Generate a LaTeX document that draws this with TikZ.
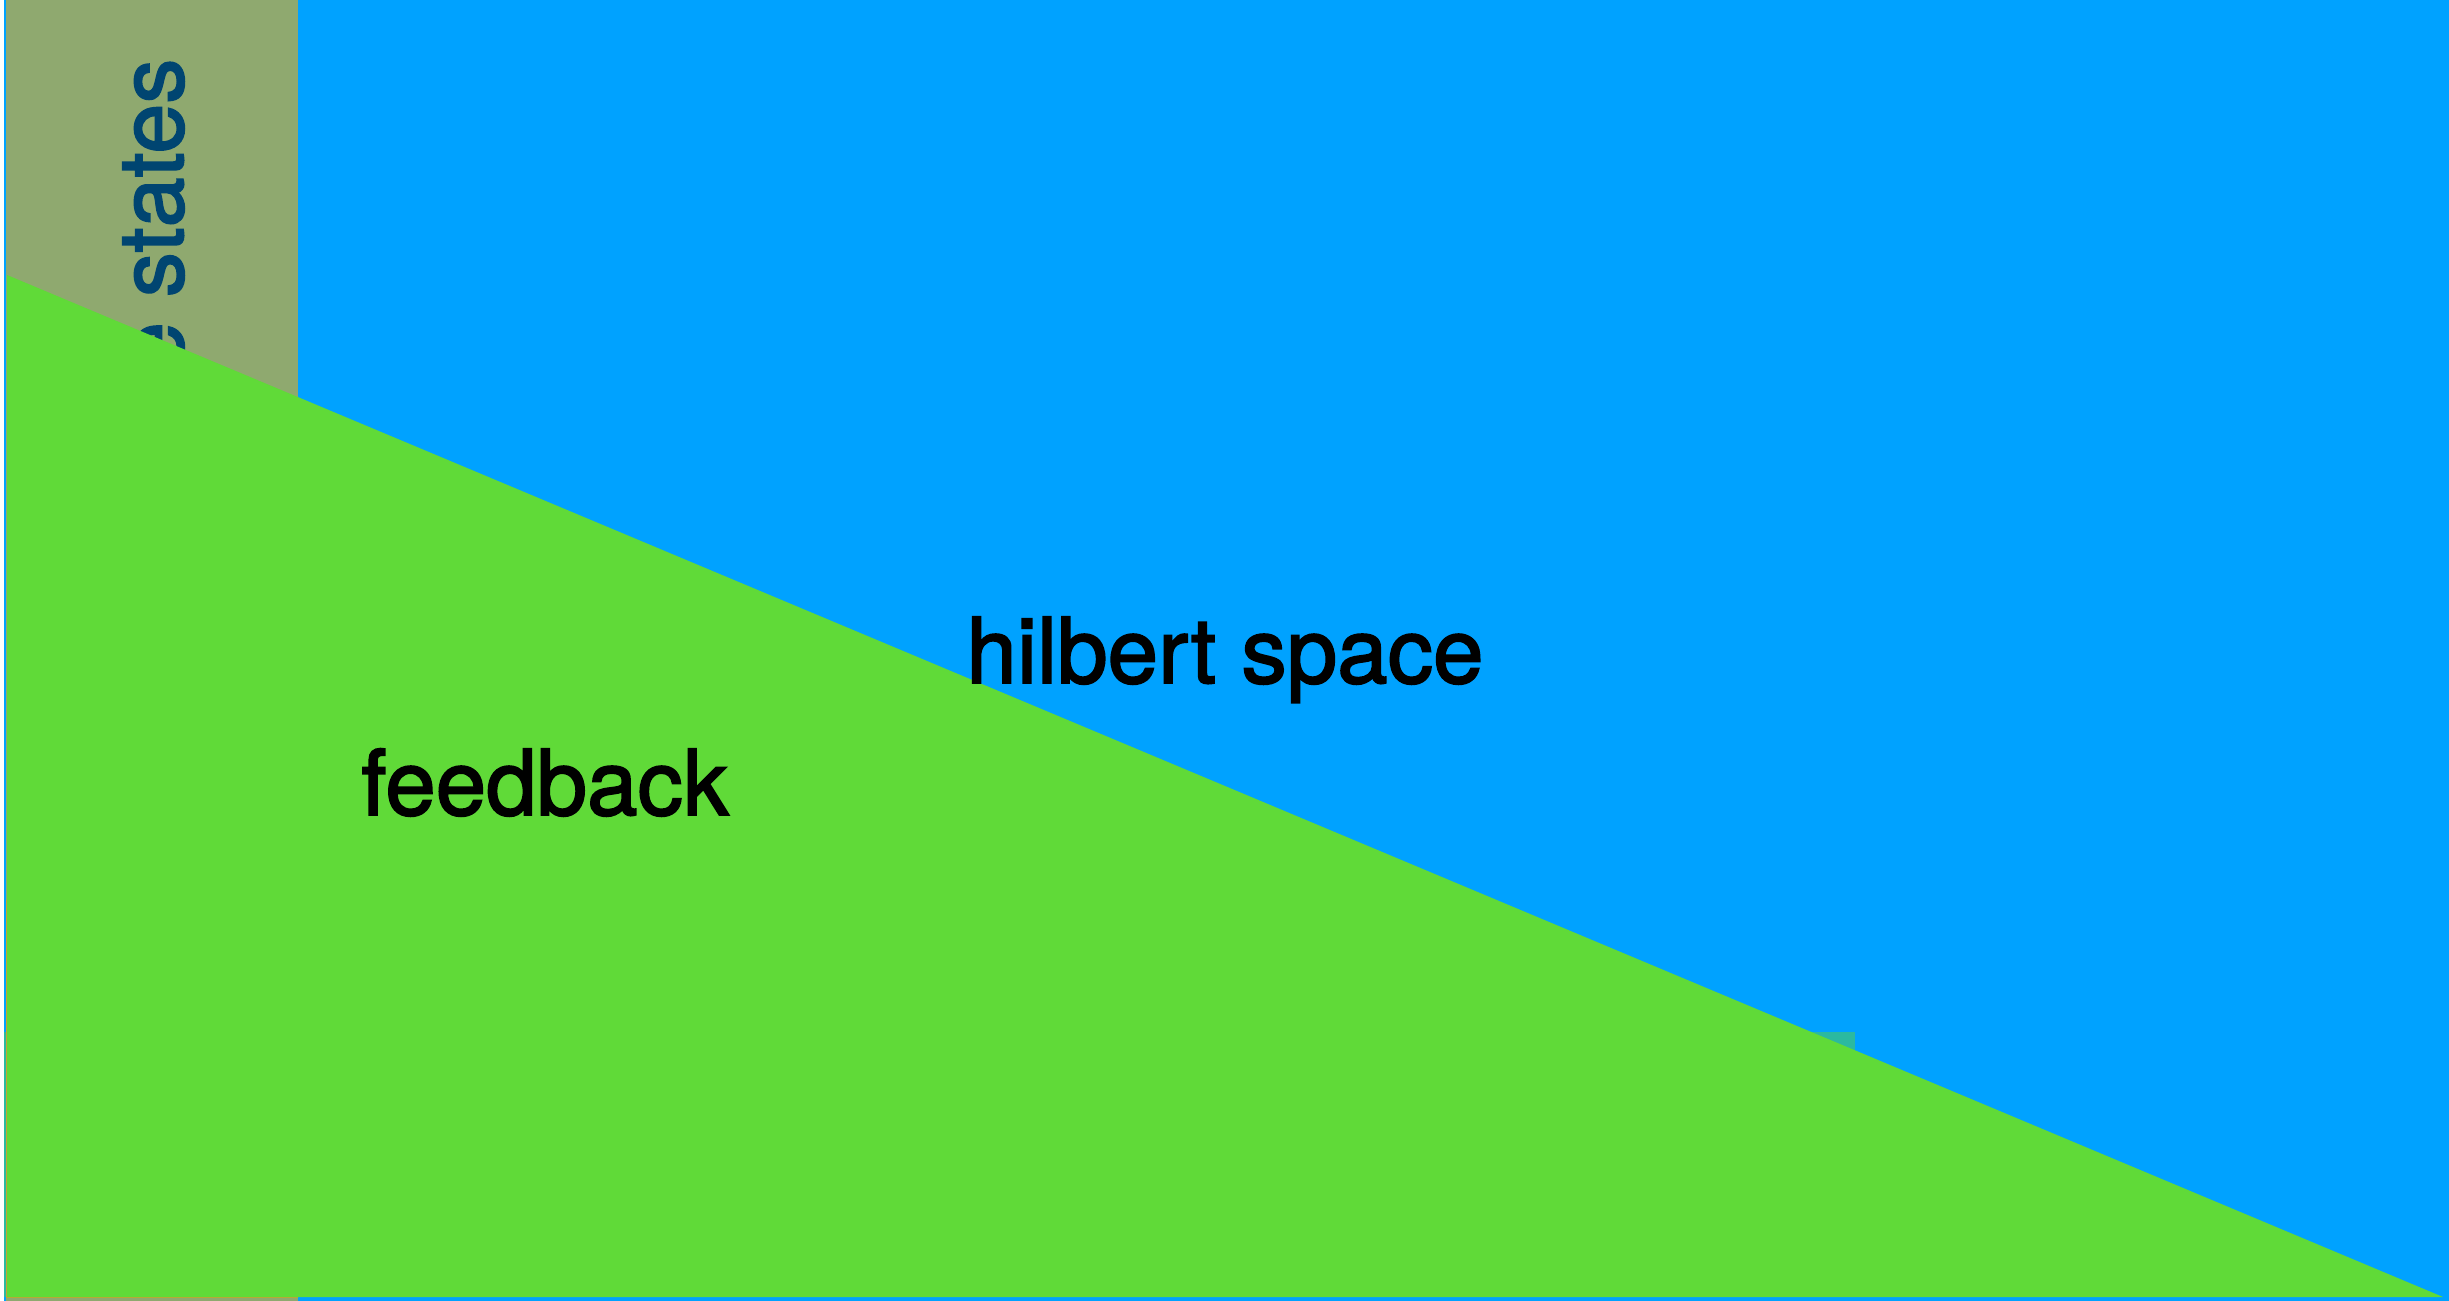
\documentclass[tikz,border=0pt]{standalone}
\usepackage{fontspec}
\setmainfont{TeX Gyre Heros}
\newfontfamily\labelfont{TeX Gyre Heros}[FakeBold=2]
\usepackage{xcolor}
\usepackage{tikz}
\definecolor{spaceblue}  {RGB}{0, 162, 255}
\definecolor{stateolive} {RGB}{143, 169, 111}
\definecolor{feedgreen}  {RGB}{96, 218, 56}
\definecolor{statetext}  {RGB}{0, 69, 113}
\definecolor{hiddenteal} {RGB}{43, 185, 160}
\definecolor{hiddenorange}{RGB}{196, 162, 52}

\begin{document}
\begin{tikzpicture}[x=0.01cm,y=-0.01cm]
      \useasboundingbox (0,0) rectangle (2449,1301);
      \fill[white]        (0,0) rectangle (2449,1301);
      \fill[spaceblue]    (4,0) rectangle (2449,1301);
      \fill[hiddenteal]   (4,1032) rectangle (1855,1297);
      \fill[stateolive]   (6,0) rectangle (298,1301);
      \node[statetext,font=\labelfont\fontsize{25.6}{30}\selectfont,rotate=90,anchor=base east,inner sep=0] (states) at (183,58) {e states};
      \fill[hiddenorange] (6,900) rectangle (298,1298);
      \fill[feedgreen]    (7,275) -- (2443,1297) -- (7,1297) -- cycle;
      \node[black,font=\labelfont\fontsize{25.8}{30}\selectfont,anchor=base,inner sep=0] (hilbert) at (1225,683) {hilbert space};
      \node[black,font=\labelfont\fontsize{25.8}{30}\selectfont,anchor=base,inner sep=0] (feedback) at (545,815) {feedback};
    \end{tikzpicture}
\end{document}
